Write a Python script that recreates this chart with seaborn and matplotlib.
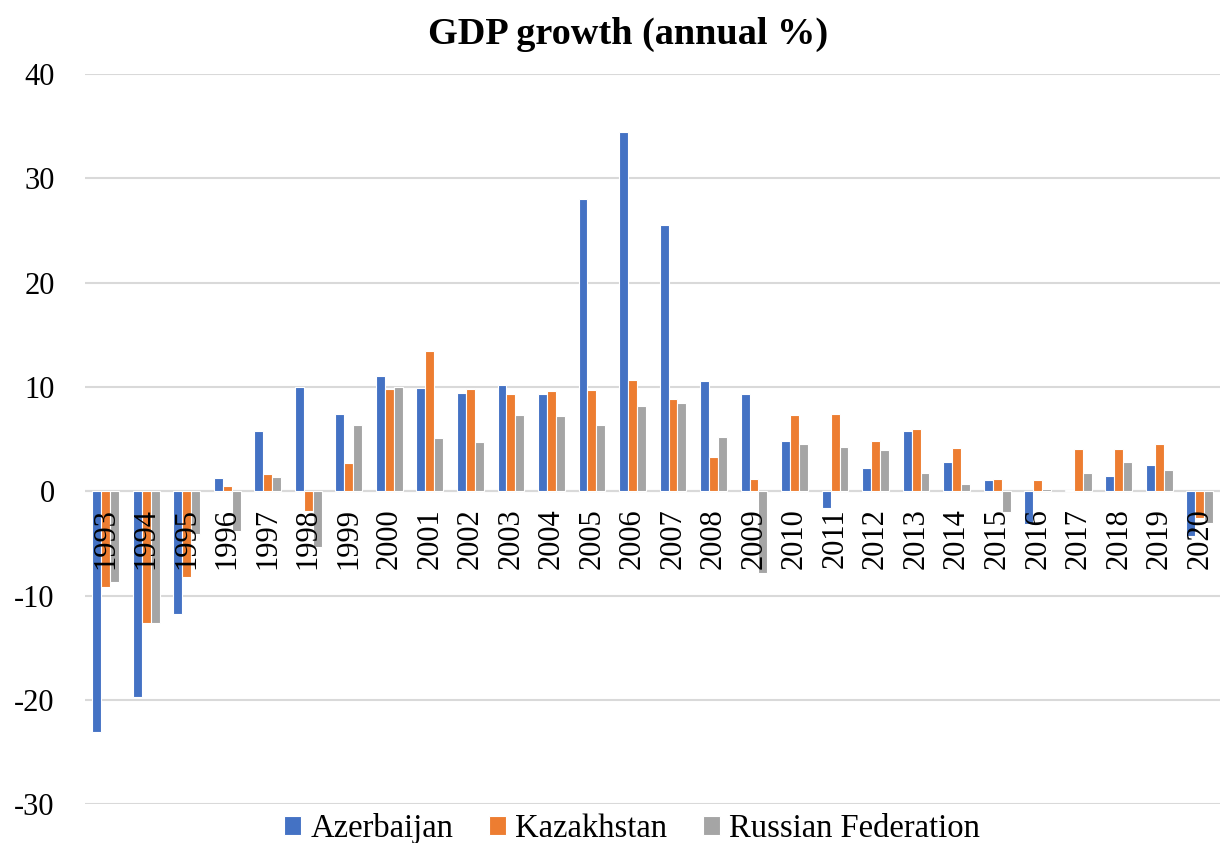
import matplotlib
matplotlib.use('Agg')
import matplotlib.pyplot as plt
import seaborn as sns
import pandas as pd

years = [str(y) for y in range(1993, 2021)]
azerbaijan = [-23.1, -19.7, -11.8, 1.3, 5.8, 10.0, 7.4, 11.1, 9.9, 9.4, 10.2, 9.3, 28.0, 34.5,
              25.5, 10.6, 9.3, 4.8, -1.6, 2.2, 5.8, 2.8, 1.1, -3.1, 0.1, 1.5, 2.5, -4.3]
kazakhstan = [-9.2, -12.6, -8.2, 0.5, 1.7, -1.9, 2.7, 9.8, 13.5, 9.8, 9.3, 9.6, 9.7, 10.7,
              8.9, 3.3, 1.2, 7.3, 7.4, 4.8, 6.0, 4.2, 1.2, 1.1, 4.1, 4.1, 4.5, -2.6]
russia = [-8.7, -12.6, -4.1, -3.8, 1.4, -5.3, 6.4, 10.0, 5.1, 4.7, 7.3, 7.2, 6.4, 8.2,
          8.5, 5.2, -7.8, 4.5, 4.3, 4.0, 1.8, 0.7, -2.0, 0.2, 1.8, 2.8, 2.0, -3.0]
series = ['Azerbaijan', 'Kazakhstan', 'Russian Federation']
colors = ['#4472C4', '#ED7D31', '#A5A5A5']

df = pd.DataFrame({'year': years * 3,
                   'growth': azerbaijan + kazakhstan + russia,
                   'country': [s for s in series for _ in years]})

sns.set_style('white')
plt.rcParams['font.family'] = ['Liberation Serif', 'DejaVu Serif']
plt.rcParams['axes.unicode_minus'] = False
plt.rcParams['text.color'] = 'black'
plt.rcParams['ytick.color'] = 'black'

fig = plt.figure(figsize=(12.2, 8.43), dpi=100)
ax = fig.add_axes([0.07, 0.046, 0.93, 0.866])

sns.barplot(data=df, x='year', y='growth', hue='country', palette=colors, saturation=1,
            width=0.66, edgecolor='white', linewidth=0.8, ax=ax, zorder=3)

ax.set_ylim(-30, 40)
ax.set_yticks(range(-30, 41, 10))
ax.set_xlim(-0.5, len(years) - 0.5)
ax.yaxis.grid(True, color='#D9D9D9', linewidth=1.5, zorder=0)
ax.set_axisbelow(True)
for s in ['top', 'right', 'left', 'bottom']:
    ax.spines[s].set_visible(False)
ax.axhline(0, color='#D9D9D9', linewidth=1.5, zorder=1)
ax.set_xticks([])
ax.tick_params(axis='y', length=0, labelsize=22, pad=22)
ax.set_xlabel('')
ax.set_ylabel('')

# category labels sit just under the zero line, drawn over the bars
for i, yr in enumerate(years):
    ax.annotate(yr, xy=(i, 0), xytext=(0, -12), textcoords='offset points',
                rotation=90, ha='center', va='top', fontsize=22, zorder=6)

ax.set_title('GDP growth (annual %)', fontsize=27.5, fontweight='bold', x=0.478, pad=22)

ax.legend(loc='upper center', bbox_to_anchor=(0.482, 0.006), ncol=3, frameon=False,
          fontsize=23.5, handlelength=0.5, handleheight=0.5, handletextpad=0.3,
          columnspacing=1.1, borderaxespad=0)

fig.savefig('out.png', dpi=100)
